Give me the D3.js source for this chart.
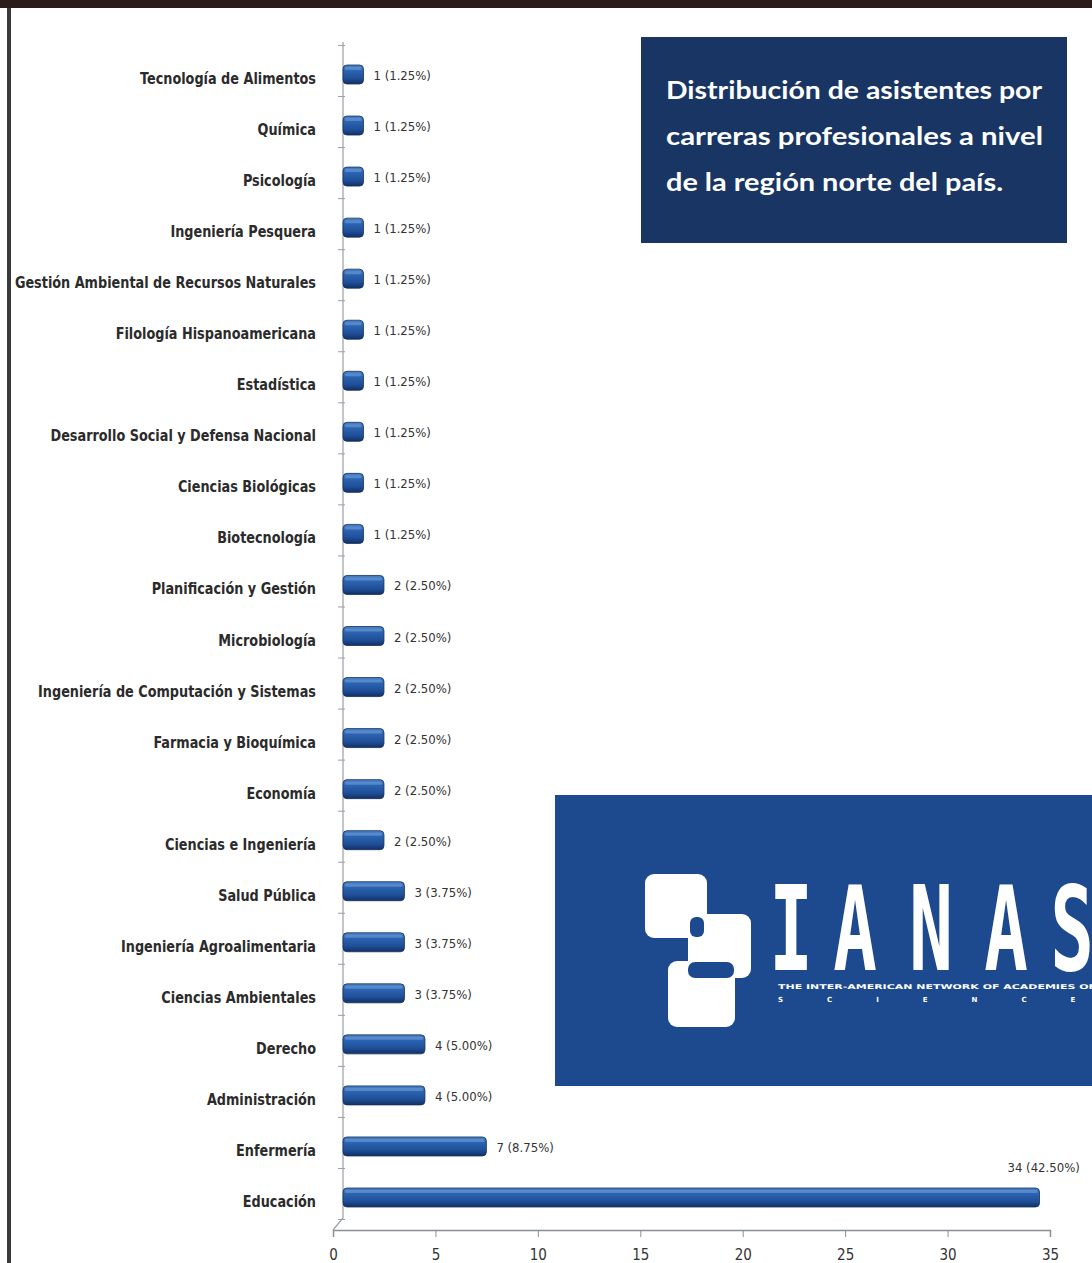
<!DOCTYPE html>
<html><head><meta charset="utf-8">
<script src="https://cdn.jsdelivr.net/npm/d3@7"></script>
<style>
html,body{margin:0;padding:0;background:#fff;overflow:hidden}
svg{display:block}
</style></head>
<body>
<svg id="c" width="1092" height="1263"></svg>
<script>
const categories = ["Tecnología de Alimentos","Química","Psicología","Ingeniería Pesquera","Gestión Ambiental de Recursos Naturales","Filología Hispanoamericana","Estadística","Desarrollo Social y Defensa Nacional","Ciencias Biológicas","Biotecnología","Planificación y Gestión","Microbiología","Ingeniería de Computación y Sistemas","Farmacia y Bioquímica","Economía","Ciencias e Ingeniería","Salud Pública","Ingeniería Agroalimentaria","Ciencias Ambientales","Derecho","Administración","Enfermería","Educación"];
const counts = [1,1,1,1,1,1,1,1,1,1,2,2,2,2,2,2,3,3,3,4,4,7,34];
const percents = ["1.25%","1.25%","1.25%","1.25%","1.25%","1.25%","1.25%","1.25%","1.25%","1.25%","2.50%","2.50%","2.50%","2.50%","2.50%","2.50%","3.75%","3.75%","3.75%","5.00%","5.00%","8.75%","42.50%"];
const xTicks = [0,5,10,15,20,25,30,35];
const titleLines = ["Distribución de asistentes por","carreras profesionales a nivel","de la región norte del país."];

const svg = d3.select("#c");
const defs = svg.append("defs");
const g1 = defs.append("linearGradient").attr("id","barG").attr("x1",0).attr("y1",0).attr("x2",0).attr("y2",1);
[[0,"#4a82c8"],[0.3,"#2c63b0"],[0.7,"#1f4f98"],[1,"#122f63"]].forEach(s=>g1.append("stop").attr("offset",s[0]).attr("stop-color",s[1]));

// frame decorations
svg.append("rect").attr("x",0).attr("y",0).attr("width",1092).attr("height",8).attr("fill","#2a1c1a");
svg.append("rect").attr("x",7).attr("y",8).attr("width",4).attr("height",1255).attr("fill","#3a3a3a");

const x = d3.scaleLinear().domain([0,35]).range([333,1050]);
const y = d3.scalePoint().domain(categories).range([79,1202]);
const depth = 10;
const FONT = "'Liberation Sans Narrow','DejaVu Sans Condensed',sans-serif";

// back wall axis line
svg.append("path").attr("d",`M343,42 L343,1218 L333,1230`).attr("fill","none").attr("stroke","#9aa0a8").attr("stroke-width",1.2);
const step = y.step();
svg.append("g").selectAll("line").data(categories.concat(["_end"])).join("line")
  .attr("x1",338).attr("x2",345)
  .attr("y1",(d,i)=>y(categories[0]) - step/2 - 8 + i*step)
  .attr("y2",(d,i)=>y(categories[0]) - step/2 - 8 + i*step)
  .attr("stroke","#9aa0a8");

// x axis
const xa = svg.append("g").attr("transform","translate(0,1230)")
  .call(d3.axisBottom(x).tickValues(xTicks).tickSize(7).tickPadding(12));
xa.select(".domain").attr("stroke","#8a8f96").attr("stroke-width",1.5);
xa.selectAll(".tick line").attr("stroke","#8a8f96");
xa.selectAll("text").attr("font-family",FONT).attr("font-size",15).attr("fill","#333");

// category labels (condensed to match narrow typeface)
const cl = svg.append("g").selectAll("text").data(categories).join("text")
  .attr("x",316).attr("y",d=>y(d)+5)
  .attr("text-anchor","end")
  .attr("font-family",FONT)
  .attr("font-size",15.5).attr("font-weight","bold").attr("fill","#2b2b2b")
  .text(d=>d);
cl.each(function(){
  const L = this.getComputedTextLength();
  d3.select(this).attr("textLength",L*0.92).attr("lengthAdjust","spacingAndGlyphs");
});

// bars
const bars = svg.append("g");
categories.forEach((c,i)=>{
  const x0 = x(0)+depth, x1 = x(counts[i])+depth;
  const yc = y(c);
  bars.append("rect").attr("x",x0).attr("y",yc-14).attr("width",x1-x0).attr("height",19)
    .attr("rx",4).attr("fill","url(#barG)").attr("stroke","#15305e").attr("stroke-width",0.8);
  bars.append("rect").attr("x",x0+2).attr("y",yc-12).attr("width",Math.max(0,x1-x0-4)).attr("height",3)
    .attr("rx",1.5).attr("fill","#6f9fd8").attr("opacity",0.55);
});

// value labels
svg.append("g").selectAll("text").data(categories).join("text")
  .attr("x",(d,i)=> counts[i] > 20 ? x(counts[i]) - 22 : x(counts[i]) + depth + 10)
  .attr("y",(d,i)=> counts[i] > 20 ? y(d) - 30 : y(d) + 1)
  .attr("font-family",FONT)
  .attr("font-size",13).attr("fill","#333")
  .text((d,i)=>`${counts[i]} (${percents[i]})`);

// title box
svg.append("rect").attr("x",641).attr("y",37).attr("width",426).attr("height",206).attr("fill","#183564");
const tw = [376,377,337];
svg.append("g").selectAll("text").data(titleLines).join("text")
  .attr("x",666).attr("y",(d,i)=>99+i*46)
  .attr("font-family","Lato,'Open Sans',sans-serif").attr("font-weight","bold")
  .attr("font-size",24).attr("fill","#fff")
  .attr("textLength",(d,i)=>tw[i]).attr("lengthAdjust","spacingAndGlyphs")
  .text(d=>d);

// IANAS logo box
const lg = svg.append("g");
lg.append("rect").attr("x",555).attr("y",795).attr("width",540).attr("height",291).attr("fill","#1d4a8e");
const sq = [[645,874,62,64],[688,914,63,64],[668,961,67,66]];
sq.forEach(s=>lg.append("rect").attr("x",s[0]).attr("y",s[1]).attr("width",s[2]).attr("height",s[3]).attr("rx",9).attr("fill","#fff"));
lg.append("rect").attr("x",690).attr("y",917).attr("width",14).attr("height",20).attr("rx",6).attr("fill","#1d4a8e");
lg.append("rect").attr("x",688).attr("y",962).attr("width",46).attr("height",16).attr("rx",7).attr("fill","#1d4a8e");
const letters = [["I",791],["A",855],["N",931],["A",1006],["S",1072]];
letters.forEach(l=>{
  lg.append("text").attr("transform",`translate(${l[1]},970) scale(0.62,1)`)
    .attr("text-anchor","middle")
    .attr("font-family","'DejaVu Sans Mono',monospace").attr("font-weight","bold")
    .attr("font-size",117).attr("fill","#fff").text(l[0]);
});
lg.append("text").attr("x",778).attr("y",989)
  .attr("font-family","'DejaVu Sans Condensed',sans-serif").attr("font-weight","bold")
  .attr("font-size",6.5).attr("fill","#fff")
  .attr("textLength",318).attr("lengthAdjust","spacingAndGlyphs").text("THE INTER-AMERICAN NETWORK OF ACADEMIES OF");
lg.append("text").attr("x",778).attr("y",1002)
  .attr("font-family","'DejaVu Sans',sans-serif").attr("font-weight","bold")
  .attr("font-size",7).attr("fill","#fff").attr("letter-spacing",44).text("SCIENCES");
</script>
</body></html>
